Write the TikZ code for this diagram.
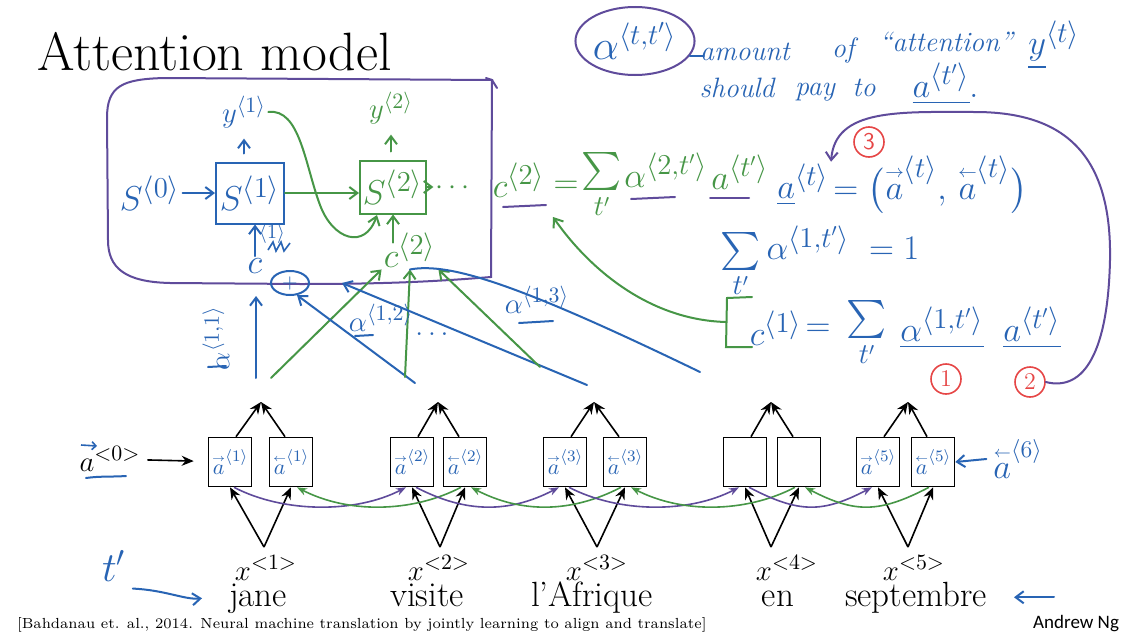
\documentclass[tikz,border=0pt]{standalone}
\usepackage{amsmath,amssymb}
\usepackage{fontspec}
\newfontfamily\signfont{Carlito}
\usetikzlibrary{arrows.meta,shapes.geometric,positioning}

\definecolor{penblue}{RGB}{40,100,180}
\definecolor{pengreen}{RGB}{70,150,70}
\definecolor{penpurple}{RGB}{95,75,155}
\definecolor{penred}{RGB}{230,70,70}
\newcommand{\ang}[1]{\langle #1\rangle}
\newcommand{\fa}{\mathord{\overset{\scriptscriptstyle\rightarrow}{a}}}
\newcommand{\ba}{\mathord{\overset{\scriptscriptstyle\leftarrow}{a}}}

\begin{document}
\begin{tikzpicture}[x=0.5pt, y=-0.5pt,
  hand/.style={font=\fontsize{19}{22}\selectfont, inner sep=1pt},
  small/.style={font=\fontsize{15}{17}\selectfont, inner sep=1pt},
  note/.style={font=\fontsize{14}{16}\selectfont\itshape, text=penblue, inner sep=1pt},
  pen/.style={line width=1pt, line cap=round, -{Straight Barb[length=4pt,width=6pt]}},
  uline/.style={line width=1pt, line cap=round},
  decbox/.style={draw, line width=1pt, inner sep=0pt, font=\fontsize{19}{22}\selectfont},
  cell/.style={draw, thick, minimum width=21.5pt, minimum height=24.5pt, inner sep=0pt,
    text=penblue, font=\fontsize{11}{12}\selectfont},
  numc/.style={circle, draw=penred, text=penred, thick, inner sep=1pt, minimum size=15pt,
    font=\fontsize{12}{12}\selectfont},
  tip/.style={-{Stealth[length=6pt,width=5pt]}, thick},
  ]
\useasboundingbox (0,0) rectangle (1130,637);
\fill[white] (0,0) rectangle (1130,637);

% Title
\node[anchor=base west, font=\fontsize{27}{30}\selectfont] (title) at (30,70) {Attention model};

% Decoder frame
\draw[penpurple, line width=1pt, line cap=round]
  (108,240) -- (107,118) .. controls (107,86) and (122,79) .. (165,78)
  -- (492,80) -- (491,277) .. controls (430,282) and (380,284) .. (300,284)
  -- (170,283) .. controls (125,282) and (108,268) .. (108,240);
\draw[penpurple, line width=1pt, line cap=round] (486,78) -- (492,80) -- (497,88);

% Decoder step 1
\node[decbox, penblue, minimum width=34pt, minimum height=30.5pt] (sbox1) at (250,193) {$S^{\ang{1}}$};
\node[hand, penblue] (s0) at (150,193) {$S^{\ang{0}}$};
\node[small, penblue] (y1) at (244,112) {$y^{\ang{1}}$};
\node[hand, penblue] (c1) at (255,266) {$c$};
\node[penblue, font=\fontsize{10}{11}\selectfont, inner sep=0pt] (c1sup) at (272,233) {$\ang{1}$};
\node[ellipse, draw=penblue, line width=1pt, minimum width=19pt, minimum height=12pt,
  inner sep=0pt, text=penblue] (plus1) at (290,283) {$+$};
\draw[pen, penblue] (s0) -- (sbox1);
\draw[pen, penblue, shorten <=4pt, shorten >=4pt] (y1.south |- sbox1.north) -- (y1.south);
\draw[pen, penblue] (c1.north) -- (c1.north |- sbox1.south);
\draw[penblue, line width=0.8pt] (268,250) -- (273,242) -- (276,251) -- (281,242) -- (284,251) -- (290,243);

% Decoder step 2
\node[decbox, pengreen, minimum width=33pt, minimum height=26.5pt] (sbox2) at (393,187) {$S^{\ang{2}}$};
\node[small, pengreen] (y2) at (391,108) {$y^{\ang{2}}$};
\node[small, pengreen] (dots1) at (455,188) {$\cdots$};
\node[hand, pengreen] (c2) at (410,250) {$c^{\ang{2}}$};
\coordinate (s2in) at (377,215);
\draw[pen, pengreen, shorten <=4pt, shorten >=4pt] (y2.south |- sbox2.north) -- (y2.south);
\draw[pen, pengreen] (sbox1.east) -- (sbox1.east -| sbox2.west);
\draw[pen, pengreen] (sbox2.east) -- (sbox2.east -| dots1.west);
\draw[pen, pengreen] ([yshift=-6pt]c2.north -| sbox2.south) -- (sbox2.south);
\draw[pen, pengreen] (y1.east) .. controls (300,108) and (305,165) .. (320,205)
  .. controls (333,240) and (365,250) .. (s2in);

% Attention weights into the context
\coordinate (ja1) at (256,378);
\coordinate (ja2) at (271,378);
\coordinate (vi1) at (415,383);
\coordinate (vi2) at (405,377);
\coordinate (af1) at (587,385);
\coordinate (af2) at (540,367);
\coordinate (en1) at (700,372);
\draw[pen, penblue] (ja1) -- (ja1 |- plus1.south);
\draw[pen, pengreen] (ja2) -- (c2.south west);
\draw[pen, penblue] (vi1) -- (plus1.-60);
\draw[pen, pengreen] (vi2) -- (c2.south);
\draw[pen, penblue] (af1) -- ([xshift=16pt]plus1.east);
\draw[pen, pengreen] (af2) -- (c2.south east);
\draw[penblue, uline] (c2.south) .. controls (450,262) and (520,285) .. (en1);
\node[small, penblue, rotate=90] (al11) at (216,338) {$\alpha^{\ang{1,1}}$};
\draw[penblue, uline] (208,367) -- (226,366);
\node[small, penblue] (al12) at (381,318) {$\alpha^{\ang{1,2}}$};
\draw[penblue, uline] (355,336) -- (373,335);
\node[small, penblue] (adots) at (432,334) {$\ldots$};
\node[small, penblue] (al13) at (537,300) {$\alpha^{\ang{1,3}}$};
\draw[penblue, uline] (519,323) -- (553,321);

% Definition of alpha
\node[ellipse, draw=penpurple, line width=1pt, minimum width=58pt, minimum height=34pt,
  inner sep=0pt, text=penblue, font=\fontsize{20}{22}\selectfont] (adef) at (635,41) {$\alpha^{\ang{t,t'}}$};
\draw[penblue, uline] (adef.-15) -- ++(14,0);
\node[note] (amount) at (745,52) {amount};
\node[note] (of) at (843,50) {of};
\node[note] (attn) at (946,42) {``attention''};
\node[hand, penblue] (yt) at (1054,45) {$\underline{y}^{\ang{t}}$};
\node[note] (should) at (737,88) {should};
\node[note] (pay) at (815,92) {pay};
\node[note] (to) at (864,88) {to};
\node[hand, penblue] (atp) at (946,84) {$\underline{a^{\ang{t'}}}$.};

% Context for step 2
\node[hand, pengreen] (c2f) at (519,180) {$c^{\ang{2}}$};
\node[hand, pengreen] (eq1) at (566,187) {$=$};
\node[hand, pengreen] (sum1) at (602,186) {$\sum\limits_{t'}$};
\node[hand, pengreen] (al2f) at (666,170) {$\alpha^{\ang{2,t'}}$};
\node[hand, pengreen] (atp1) at (740,172) {$a^{\ang{t'}}$};
\draw[penpurple, uline] (503,207) -- (546,205);
\draw[penpurple, uline] (631,199) -- (675,197);
\draw[penpurple, uline] (710,198) -- (749,198);

% Concatenated activation
\node[hand, penblue] (aeq) at (803,185) {$\underline{a}^{\ang{t}}$};
\node[hand, penblue, right=0pt of aeq] (apair) {$=\bigl(\fa^{\ang{t}},\,\ba^{\ang{t}}\bigr)$};

% Weights sum to one
\node[hand, penblue] (sum3) at (820,262) {$\sum\limits_{t'}\alpha^{\ang{1,t'}}\;=1$};

% Context for step 1
\node[hand, penblue] (c1f) at (776,328) {$c^{\ang{1}}$};
\node[hand, penblue] (eq4) at (818,330) {$=$};
\node[hand, penblue] (sum4) at (867,334) {$\sum\limits_{t'}$};
\node[hand, penblue] (al4) at (942,328) {$\underline{\alpha^{\ang{1,t'}}}$};
\node[hand, penblue] (a4) at (1032,328) {$\underline{a^{\ang{t'}}}$};
\draw[pengreen, uline] (752,297) -- (727,298) -- (726,347) -- (752,347);
\coordinate (brk) at (726,322);
\coordinate (c2tip) at (553,217);
\draw[pen, pengreen] (brk) .. controls (650,320) and (590,270) .. (c2tip);

% Numbered steps
\node[numc] (num1) at (946,379) {1};
\node[numc] (num2) at (1030,382) {2};
\node[numc, font=\sffamily\fontsize{12}{12}\selectfont] (num3) at (869,142) {3};
\draw[penpurple, line width=1pt, line cap=round, -{Straight Barb[length=4pt,width=6pt]}]
  (num2.east) .. controls (1085,392) and (1108,350) .. (1110,260)
  .. controls (1112,150) and (1060,112) .. (975,112)
  .. controls (900,112) and (835,108) .. (aeq.north east);

% Bidirectional encoder
\foreach \fx/\bx/\tx/\vx/\i in {230/291/261/264/1, 412/465/438/440/2,
    565/625/594/597/3, 745/799/771/771/4, 878/933/908/908/5}{
  \node[cell] (fwd\i) at (\fx,462) {\ifnum\i=4\else$\fa^{\ang{\i}}$\fi};
  \node[cell] (bwd\i) at (\bx,462) {\ifnum\i=4\else$\ba^{\ang{\i}}$\fi};
  \coordinate (top\i) at (\tx,402);
  \coordinate (vb\i) at (\vx,547);
  \draw[tip] ([xshift=3pt]fwd\i.north) -- (top\i);
  \draw[tip] ([xshift=-3pt]bwd\i.north) -- (top\i);
  \draw[tip] (vb\i) -- (fwd\i.south);
  \draw[tip] (vb\i) -- (bwd\i.south);
}
\foreach \i/\j in {1/2,2/3,3/4,4/5}{
  \draw[penpurple, line width=0.8pt, -{Stealth[length=5pt]}]
    ([xshift=2pt]fwd\i.south) .. controls +(50,26) and +(-50,26) .. ([xshift=-3pt]fwd\j.south);
  \draw[pengreen, line width=0.8pt, -{Stealth[length=5pt]}]
    ([xshift=-2pt]bwd\j.south) .. controls +(-50,26) and +(50,26) .. ([xshift=3pt]bwd\i.south);
}
\node[font=\fontsize{15}{17}\selectfont] (a0) at (110,459) {$a^{<0>}$};
\draw[penblue, line width=0.8pt, -{Straight Barb[length=2pt]}] (81,445) -- (97,446);
\draw[penblue, uline] (86,478) .. controls (100,476) and (112,477) .. (126,476);
\draw[tip, shorten >=7pt] (a0) -- (fwd1);
\node[penblue, font=\fontsize{17}{19}\selectfont] (a6) at (1018,459) {$\ba^{\ang{6}}$};
\draw[pen, penblue] (a6.west) -- (bwd5.east);

% Inputs
\foreach \x/\i in {266/1, 439/2, 597/3, 787/4, 914/5}
  \node[font=\fontsize{15}{17}\selectfont] (x\i) at (\x,568) {$x^{<\i>}$};
\foreach \x/\w/\i in {258/jane/1, 427/visite/2, 592/l'Afrique/3, 778/en/4, 916/septembre/5}
  \node[anchor=base, font=\fontsize{17.5}{20}\selectfont] (w\i) at (\x,606) {\w};
\node[penblue, font=\fontsize{22}{24}\selectfont] (tp) at (114,566) {$t'$};
\draw[pen, penblue] (tp.south east) .. controls (165,590) and (185,600) .. ([xshift=-10pt]w1.west);
\draw[pen, penblue] ([xshift=30pt]w5.east) -- ([xshift=10pt]w5.east);

% Footer
\node[anchor=base west, font=\fontsize{7.3}{8}\selectfont] (cite) at (10,628)
  {[Bahdanau et. al., 2014. Neural machine translation by jointly learning to align and translate]};
\node[anchor=base east, font=\signfont\fontsize{9.5}{10}\selectfont] (ng) at (1126,628) {Andrew Ng};
\end{tikzpicture}
\end{document}
